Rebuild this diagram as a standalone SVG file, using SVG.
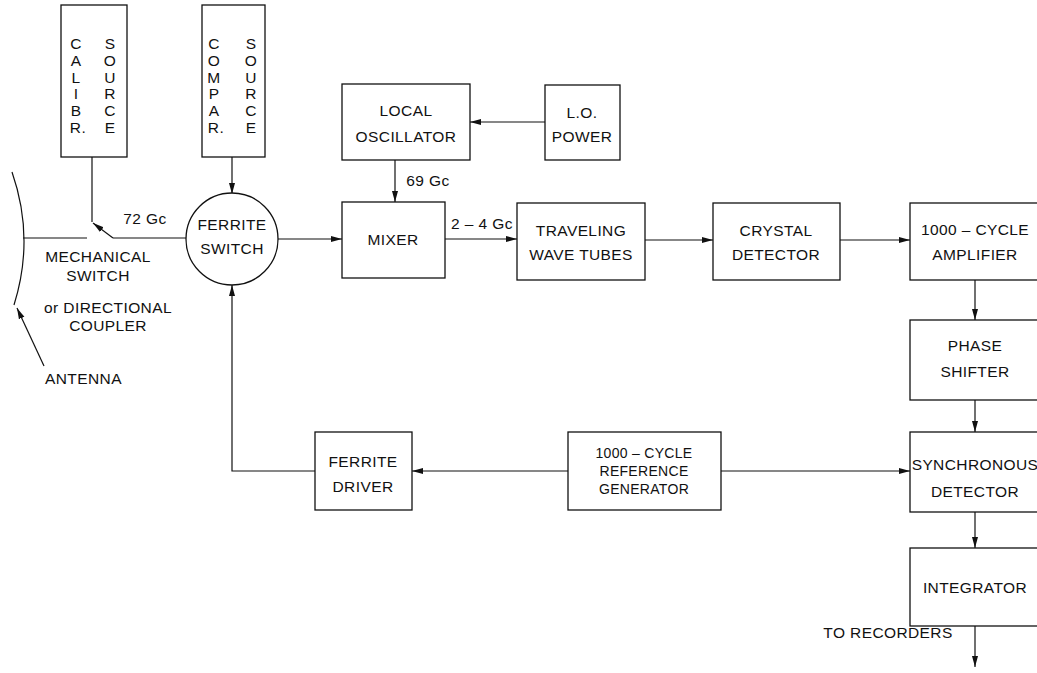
<svg xmlns="http://www.w3.org/2000/svg" width="1037" height="673" viewBox="0 0 1037 673">
<style>
.box{fill:#fff;stroke:#111;stroke-width:1.3}
.ln{fill:none;stroke:#111;stroke-width:1.2}
.arr{fill:none;stroke:#111;stroke-width:1.2;marker-end:url(#ah)}
text{font-family:"Liberation Sans",Arial,sans-serif;font-size:15.5px;fill:#111;text-anchor:middle;letter-spacing:0.4px}
.sm{font-size:14px;letter-spacing:0.3px}
.st{text-anchor:start}
</style>
<defs>
<marker id="ah" markerUnits="userSpaceOnUse" markerWidth="12" markerHeight="8" refX="11" refY="4" orient="auto">
<path d="M0,1 L11,4 L0,7 Z" fill="#111"/>
</marker>
</defs>
<rect width="1037" height="673" fill="#fff"/>

<g id="connectors">
<path class="arr" d="M232,157 V194"/>
<path class="arr" d="M278,239 H342"/>
<path class="arr" d="M545,122 H470"/>
<path class="arr" d="M395,160 V202"/>
<path class="arr" d="M445,239 H517"/>
<path class="arr" d="M645,240 H713"/>
<path class="arr" d="M840,240 H910"/>
<path class="arr" d="M975,280 V320"/>
<path class="arr" d="M975,400 V432"/>
<path class="arr" d="M975,512 V548"/>
<path class="arr" d="M975,626 V667"/>
<path class="arr" d="M568,471 H412"/>
<path class="arr" d="M721,471 H910"/>
<path class="arr" d="M315,471 H232 V285"/>
<path class="ln" d="M92,157 V222"/>
<path class="arr" d="M113,238 L93,223"/>
<path class="ln" d="M113,238 H186"/>
<path class="ln" d="M23,238 H87"/>
<path class="arr" d="M44,366 L17,308"/>
</g>

<g id="antenna">
<path class="ln" d="M12,172 Q35,238 14,305" stroke-width="1.5"/>
<text x="45" y="384" class="st">ANTENNA</text>
</g>

<g id="labels">
<text x="98" y="262">MECHANICAL</text>
<text x="98" y="281">SWITCH</text>
<text x="108" y="313">or DIRECTIONAL</text>
<text x="108" y="331">COUPLER</text>
<text x="145" y="224">72 Gc</text>
<text x="428" y="186">69 Gc</text>
<text x="482" y="229">2 – 4 Gc</text>
<text x="888" y="638">TO RECORDERS</text>
</g>

<g id="calibr-source">
<rect class="box" x="61" y="5" width="66" height="152"/>
<text x="76" y="49">C</text><text x="76" y="66">A</text><text x="76" y="83">L</text><text x="76" y="99">I</text><text x="76" y="116">B</text><text x="78" y="133">R.</text>
<text x="110" y="49">S</text><text x="110" y="66">O</text><text x="110" y="83">U</text><text x="110" y="99">R</text><text x="110" y="116">C</text><text x="110" y="133">E</text>
</g>

<g id="compar-source">
<rect class="box" x="202" y="5" width="63" height="152"/>
<text x="214" y="49">C</text><text x="214" y="66">O</text><text x="214" y="83">M</text><text x="214" y="99">P</text><text x="214" y="116">A</text><text x="216" y="133">R.</text>
<text x="251" y="49">S</text><text x="251" y="66">O</text><text x="251" y="83">U</text><text x="251" y="99">R</text><text x="251" y="116">C</text><text x="251" y="133">E</text>
</g>

<g id="ferrite-switch">
<circle class="box" cx="232" cy="239" r="46"/>
<text x="232" y="230">FERRITE</text>
<text x="232" y="254">SWITCH</text>
</g>

<g id="local-oscillator">
<rect class="box" x="342" y="84" width="128" height="76"/>
<text x="406" y="116">LOCAL</text>
<text x="406" y="142">OSCILLATOR</text>
</g>

<g id="lo-power">
<rect class="box" x="545" y="85" width="75" height="75"/>
<text x="582" y="118">L.O.</text>
<text x="582" y="142">POWER</text>
</g>

<g id="mixer">
<rect class="box" x="342" y="202" width="103" height="76"/>
<text x="393" y="245">MIXER</text>
</g>

<g id="twt">
<rect class="box" x="517" y="203" width="128" height="77"/>
<text x="581" y="236">TRAVELING</text>
<text x="581" y="260">WAVE TUBES</text>
</g>

<g id="crystal-detector">
<rect class="box" x="713" y="203" width="127" height="77"/>
<text x="776" y="236">CRYSTAL</text>
<text x="776" y="260">DETECTOR</text>
</g>

<g id="amplifier">
<rect class="box" x="910" y="203" width="131" height="77"/>
<text x="975" y="235">1000 – CYCLE</text>
<text x="975" y="260">AMPLIFIER</text>
</g>

<g id="phase-shifter">
<rect class="box" x="910" y="320" width="131" height="80"/>
<text x="975" y="351">PHASE</text>
<text x="975" y="377">SHIFTER</text>
</g>

<g id="sync-detector">
<rect class="box" x="910" y="432" width="131" height="80"/>
<text x="975" y="470">SYNCHRONOUS</text>
<text x="975" y="497">DETECTOR</text>
</g>

<g id="integrator">
<rect class="box" x="910" y="548" width="131" height="78"/>
<text x="975" y="593">INTEGRATOR</text>
</g>

<g id="ferrite-driver">
<rect class="box" x="315" y="432" width="97" height="78"/>
<text x="363" y="467">FERRITE</text>
<text x="363" y="492">DRIVER</text>
</g>

<g id="reference-generator">
<rect class="box" x="568" y="432" width="153" height="78"/>
<text class="sm" x="644" y="458">1000 – CYCLE</text>
<text class="sm" x="644" y="476">REFERENCE</text>
<text class="sm" x="644" y="494">GENERATOR</text>
</g>
</svg>
